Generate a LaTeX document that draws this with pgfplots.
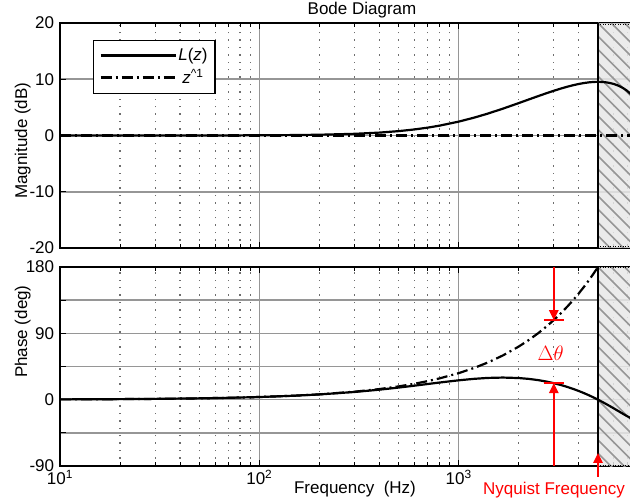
\documentclass[border=0pt]{standalone}
\usepackage{fontspec}
\setmainfont{Liberation Sans}
\usepackage{pgfplots}
\pgfplotsset{compat=1.18}
\usetikzlibrary{arrows.meta}

\definecolor{gridgray}{RGB}{150,150,150}
\definecolor{minorgray}{RGB}{110,110,110}
\definecolor{hatchfill}{RGB}{232,232,232}
\definecolor{hatchline}{RGB}{150,150,150}
\definecolor{annred}{RGB}{255,0,0}

\begin{document}
\fontsize{17}{20}\selectfont
\begin{tikzpicture}
% ---------------- Magnitude ----------------
\begin{axis}[
  scale only axis, width=598pt, xmode=log, xmin=10, xmax=10000,
  log basis x=10,
  xtick={10,100,1000,10000},
  minor xtick={20,30,40,50,60,70,80,90,200,300,400,500,600,700,800,900,2000,3000,4000,5000,6000,7000,8000,9000},
  grid=both,
  major grid style={line width=1.6pt, gridgray},
  minor grid style={line width=1.1pt, minorgray, dash pattern=on 1.4pt off 6pt},
  axis line style={line width=1.8pt},
  tick style={line width=0.9pt, black},
  major tick length=6pt, minor tick length=4pt,
  tick align=inside,
  at={(0pt,218pt)}, anchor=south west, height=225pt,
  ymin=-20, ymax=20,
  ytick={-20,-10,0,10,20},
  yticklabels={-20,-10,0,10,20},
  xticklabels={},
  ylabel={Magnitude (dB)},
  ylabel style={at={(axis description cs:-0.0549,0.477)}, anchor=base},
  title={Bode Diagram},
  title style={at={(axis description cs:0.505,1)}, anchor=base, yshift=2.3pt, inner sep=0pt},
  legend style={at={(0.0552,0.9244)}, anchor=north west, draw=black, line width=1.3pt,
    fill=white, inner xsep=6pt, inner ysep=6pt, row sep=3pt,
    nodes={inner sep=1.5pt}, cells={anchor=center}},
  legend image code/.code={\path (0pt,0pt) -- (75pt,0pt);\draw[#1] (0pt,0pt) -- (63pt,0pt);},
]
\fill[hatchfill, fill opacity=0.85] (axis cs:5000,-20) rectangle (axis cs:10000,20);
\pgfplotsinvokeforeach{0,...,5}{\draw[hatchline,line width=1.6pt] ([xshift=#1*13.3pt]axis cs:5000,20) -- ++(300pt,-300pt);}
\pgfplotsinvokeforeach{1,...,17}{\draw[hatchline,line width=1.6pt] ([yshift=-#1*13.3pt]axis cs:5000,20) -- ++(300pt,-300pt);}
\draw[black, line width=1pt, dash pattern=on 1pt off 1.5pt]
  (axis cs:5000,-19.8) -- (axis cs:10000,-19.8) (axis cs:5000,19.8) -- (axis cs:10000,19.8);
\draw[black, line width=1.8pt] (axis cs:5000,-20) -- (axis cs:5000,20);

\addplot[black, line width=2.2pt] coordinates {
(10,0.0003)(20,0.0014)(30,0.0031)(50,0.0086)(70,0.0168)(100,0.0341)(150,0.0764)
(200,0.1349)(300,0.2973)(400,0.5141)(500,0.7764)(600,1.0751)(700,1.4011)(800,1.7459)
(1000,2.4648)(1200,3.1893)(1400,3.8922)(1667,4.7712)(2000,5.7564)(2250,6.4093)
(2500,6.9897)(2750,7.5018)(3000,7.9490)(3250,8.3353)(3500,8.6636)(3750,8.9370)
(4000,9.1574)(4250,9.3270)(4500,9.4471)(4750,9.5187)(5000,9.5424)(5250,9.5187)
(5500,9.4471)(5750,9.3270)(6000,9.1574)(6250,8.9370)(6500,8.6636)(6750,8.3353)
(7000,7.9490)(7500,6.9897)(8000,5.7564)
};
\addlegendentry{\textit{L}(\textit{z})}
\addplot[black, line width=2.2pt, dash pattern=on 11pt off 4pt on 2pt off 4pt] coordinates {(10,0)(10000,0)};
\addlegendentry{\textit{z}\textsuperscript{\textasciicircum 1}}
\end{axis}

% ---------------- Phase ----------------
\begin{axis}[
  scale only axis, width=598pt, xmode=log, xmin=10, xmax=10000,
  log basis x=10,
  xtick={10,100,1000,10000},
  minor xtick={20,30,40,50,60,70,80,90,200,300,400,500,600,700,800,900,2000,3000,4000,5000,6000,7000,8000,9000},
  grid=both,
  major grid style={line width=1.6pt, gridgray},
  minor grid style={line width=1.1pt, minorgray, dash pattern=on 1.4pt off 6pt},
  axis line style={line width=1.8pt},
  tick style={line width=0.9pt, black},
  major tick length=6pt, minor tick length=4pt,
  tick align=inside,
  at={(0pt,0pt)}, anchor=south west, height=199pt,
  ymin=-90, ymax=180,
  ytick={-90,-45,0,45,90,135,180},
  yticklabels={-90,,0,,90,,180},
  xticklabels={10\textsuperscript{1},10\textsuperscript{2},10\textsuperscript{3},},
  xticklabel style={inner sep=1pt, yshift=-3pt},
  ylabel={Phase (deg)},
  ylabel style={at={(axis description cs:-0.0549,0.675)}, anchor=base},
  xlabel={Frequency~~(Hz)},
  xlabel style={at={(axis description cs:0.4933,0)}, anchor=north, yshift=-15pt, inner sep=0pt},
]
\fill[hatchfill, fill opacity=0.85] (axis cs:5000,-90) rectangle (axis cs:10000,180);
\pgfplotsinvokeforeach{0,...,5}{\draw[hatchline,line width=1.6pt] ([xshift=#1*13.3pt]axis cs:5000,180) -- ++(300pt,-300pt);}
\pgfplotsinvokeforeach{1,...,15}{\draw[hatchline,line width=1.6pt] ([yshift=-#1*13.3pt]axis cs:5000,180) -- ++(300pt,-300pt);}
\draw[black, line width=1pt, dash pattern=on 1pt off 1.5pt]
  (axis cs:5000,-89) -- (axis cs:10000,-89) (axis cs:5000,179) -- (axis cs:10000,179);
\draw[black, line width=1.8pt] (axis cs:5000,-90) -- (axis cs:5000,180);

\addplot[black, line width=2.2pt] coordinates {
(10,0.36)(20,0.72)(30,1.08)(50,1.798)(70,2.515)(100,3.586)(150,5.353)(200,7.088)
(300,10.432)(400,13.556)(500,16.415)(600,18.979)(700,21.246)(800,23.207)(1000,26.269)
(1200,28.308)(1400,29.491)(1667,30.0)(2000,29.355)(2250,28.180)(2500,26.565)
(2750,24.612)(3000,22.386)(3250,19.954)(3500,17.361)(3750,14.639)(4000,11.819)
(4250,8.925)(4500,5.978)(4750,2.997)(5000,0)(5250,-2.997)(5500,-5.978)(5750,-8.925)
(6000,-11.819)(6250,-14.639)(6500,-17.361)(6750,-19.954)(7000,-22.386)(7500,-26.565)
(8000,-29.355)
};
\addplot[black, line width=2.2pt, dash pattern=on 11pt off 4pt on 2pt off 4pt] coordinates {
(10,0.36)(20,0.72)(30,1.08)(50,1.8)(70,2.52)(100,3.6)(150,5.4)(200,7.2)(300,10.8)
(400,14.4)(500,18)(600,21.6)(700,25.2)(800,28.8)(1000,36)(1200,43.2)(1400,50.4)
(1667,60)(2000,72)(2250,81)(2500,90)(2750,99)(3000,108)(3250,117)(3500,126)
(3750,135)(4000,144)(4250,153)(4500,162)(4750,171)(5000,180)
};

% annotations
\draw[annred, line width=1.6pt, -{Triangle[width=9.5pt,length=10pt]}] (axis cs:3000,180) -- (axis cs:3000,108);
\draw[annred, line width=1.6pt] (axis cs:2672,108) -- (axis cs:3368,108);
\draw[annred, line width=1.6pt, -{Triangle[width=9.5pt,length=10pt]}] (axis cs:3000,-90) -- (axis cs:3000,22.4);
\draw[annred, line width=1.6pt] (axis cs:2672,22.4) -- (axis cs:3368,22.4);
\node[annred, font=\fontsize{21}{24}\selectfont] at (axis cs:2890,63) {$\Delta\theta$};
\coordinate (nyq) at (axis cs:5000,-90);
\end{axis}

\draw[annred, line width=1.6pt, -{Triangle[width=9.5pt,length=10pt]}] ([yshift=-11pt]nyq) -- ([yshift=13pt]nyq);
\node[annred, anchor=base, inner sep=0pt] at ([xshift=-44pt,yshift=-28.3pt]nyq) {Nyquist Frequency};

\pgfresetboundingbox
\useasboundingbox (-60pt,-35pt) rectangle (570pt,466pt);
\end{tikzpicture}
\end{document}
